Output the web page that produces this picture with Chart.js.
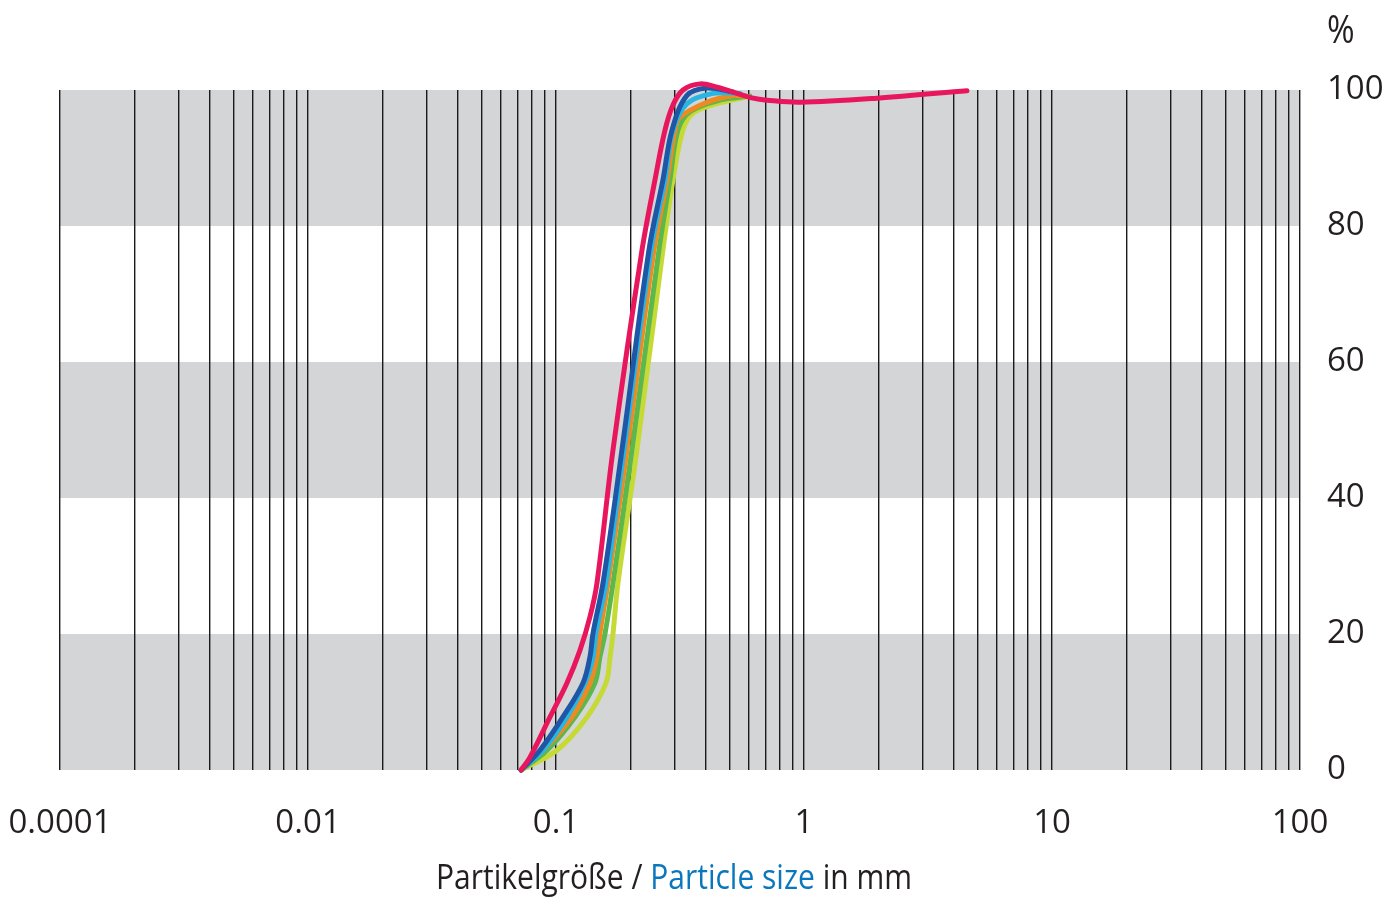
<!DOCTYPE html>
<html lang="de">
<head>
  <meta charset="UTF-8">
  <title>Partikelgröße</title>
  <script src="https://cdn.jsdelivr.net/npm/chart.js"></script>
  <style>
    body { margin: 0; background: #fff; }
    .chart-container { position: relative; width: 1394px; height: 899px; }
  </style>
</head>
<body>
<div class="chart-container">
  <canvas id="psdChart"></canvas>
</div>
<script>
  // Data (particle size in mm, cumulative passing in %)
  const redSize = [0.0723, 0.0786, 0.0946, 0.1107, 0.1249, 0.137, 0.1463, 0.1698, 0.2223, 0.2507, 0.2751, 0.2963, 0.3251, 0.381, 0.4459, 0.5172, 0.6229, 0.7092, 0.9636, 1.97, 4.54];
  const redPct  = [0, 1.9, 7.8, 12.8, 17.6, 22.5, 27.5, 47.1, 76.5, 86.8, 94.1, 97.8, 100, 100.9, 100.4, 99.7, 98.8, 98.5, 98.2, 98.8, 99.9];

  const blueSize = [0.0723, 0.0862, 0.1067, 0.1285, 0.137, 0.141, 0.1547, 0.1845, 0.2371, 0.27, 0.2936, 0.3374, 0.4064, 0.5172];
  const bluePct  = [0, 2.9, 7.8, 12.8, 16.6, 20.1, 27.5, 47.1, 76.5, 86.8, 94.1, 99.2, 100.3, 99.7];

  const cyanSize = [0.0723, 0.0886, 0.1108, 0.1309, 0.141, 0.1449, 0.1591, 0.188, 0.2416, 0.2751, 0.2963, 0.3374, 0.4297, 0.5519];
  const cyanPct  = [0, 2.9, 7.8, 12.8, 16.6, 20.1, 27.5, 47.1, 76.5, 86.8, 94.1, 98, 99.5, 99.5];

  const orangeSize = [0.0723, 0.0886, 0.116, 0.137, 0.1463, 0.1503, 0.162, 0.1933, 0.2484, 0.2803, 0.3018, 0.3162, 0.4064, 0.5172, 0.5782];
  const orangePct  = [0, 2.9, 7.8, 12.8, 16.6, 20.1, 27.5, 47.1, 76.5, 86.8, 94.1, 96, 98.2, 99.2, 99.1];

  const greenSize = [0.0723, 0.092, 0.1193, 0.1435, 0.1503, 0.1577, 0.1698, 0.2025, 0.2602, 0.2881, 0.3103, 0.347, 0.458, 0.605];
  const greenPct  = [0, 2.9, 7.8, 12.8, 16.6, 20.1, 27.5, 47.1, 76.5, 86.8, 94.1, 96.8, 98.5, 99.1];

  const limeSize = [0.0723, 0.1009, 0.1334, 0.1591, 0.1652, 0.1698, 0.1778, 0.2121, 0.27, 0.2963, 0.3251, 0.3567, 0.4459, 0.5891];
  const limePct  = [0, 2.9, 7.8, 12.8, 16.6, 20.1, 27.5, 47.1, 76.5, 86.8, 94.1, 96.6, 98, 99];

  // Axis ticks
  const xDecades = [0.001, 0.01, 0.1, 1, 10, 100];
  const xTickLabels = ['0.0001', '0.01', '0.1', '1', '10', '100'];
  const yTicks = [0, 20, 40, 60, 80, 100];
  const grayBands = [[0, 20], [40, 60], [80, 100]];

  const FONT = "'Open Sans', 'Noto Sans', sans-serif";
  const TEXT = '#231f20';

  function toPoints(xs, ys) {
    return xs.map((x, i) => ({ x: x, y: ys[i] }));
  }

  function series(label, xs, ys, color) {
    return {
      label: label,
      data: toPoints(xs, ys),
      borderColor: color,
      borderWidth: 5,
      pointRadius: 0,
      tension: 0.35,
      borderCapStyle: 'round',
      borderJoinStyle: 'round',
      clip: false
    };
  }

  // all 1..9 gridlines per decade
  const gridValues = [];
  xDecades.forEach((d, i) => {
    if (i === xDecades.length - 1) { gridValues.push(d); return; }
    for (let m = 1; m <= 9; m++) gridValues.push(+(d * m).toPrecision(3));
  });

  const bandsPlugin = {
    id: 'bands',
    beforeDraw(chart) {
      const { ctx, chartArea, scales } = chart;
      ctx.save();
      ctx.fillStyle = '#d4d5d7';
      grayBands.forEach(([a, b]) => {
        const y1 = scales.y.getPixelForValue(b);
        const y2 = scales.y.getPixelForValue(a);
        ctx.fillRect(chartArea.left, y1, chartArea.right - chartArea.left, y2 - y1);
      });
      ctx.restore();
    },
    afterDraw(chart) {
      const { ctx, chartArea } = chart;
      ctx.save();
      ctx.font = '38px ' + FONT;
      ctx.fillStyle = TEXT;
      ctx.textBaseline = 'alphabetic';
      ctx.textAlign = 'left';
      ctx.save();
      ctx.translate(chartArea.right + 27, 43);
      ctx.scale(0.88, 1);
      ctx.fillText('%', 0, 0);
      ctx.restore();

      // axis title with a coloured part (narrowed to match the condensed look)
      ctx.font = '35px ' + FONT;
      const parts = [['Partikelgröße / ', TEXT], ['Particle size', '#0a77bd'], [' in mm', TEXT]];
      const total = parts.reduce((s, p) => s + ctx.measureText(p[0]).width, 0);
      const sx = 476 / total;
      ctx.translate(674 - 238, 889);
      ctx.scale(sx, 1);
      let x = 0;
      parts.forEach(([t, c]) => {
        ctx.fillStyle = c;
        ctx.fillText(t, x, 0);
        x += ctx.measureText(t).width;
      });
      ctx.restore();
    }
  };

  const ctx = document.getElementById('psdChart').getContext('2d');
  new Chart(ctx, {
    type: 'line',
    data: {
      datasets: [
        series('Rot', redSize, redPct, '#e8175d'),
        series('Blau', blueSize, bluePct, '#1f57a6'),
        series('Hellblau', cyanSize, cyanPct, '#2ab6e2'),
        series('Orange', orangeSize, orangePct, '#ee8a23'),
        series('Grün', greenSize, greenPct, '#5cb84a'),
        series('Gelbgrün', limeSize, limePct, '#c6da36')
      ]
    },
    options: {
      responsive: true,
      maintainAspectRatio: false,
      animation: false,
      layout: { padding: { left: 60, top: 90, right: 0, bottom: 0 } },
      plugins: {
        legend: { display: false },
        tooltip: { enabled: false }
      },
      scales: {
        x: {
          type: 'logarithmic',
          min: 0.001,
          max: 100,
          afterBuildTicks(scale) {
            scale.ticks = gridValues.map(v => ({ value: v }));
          },
          afterFit(scale) {
            scale.height = 129;
            scale.paddingLeft = 0;
            scale.paddingRight = 0;
          },
          grid: { color: '#1a1a1a', lineWidth: 1.4, drawTicks: false },
          border: { display: false },
          ticks: {
            autoSkip: false,
            maxRotation: 0,
            padding: 34,
            color: TEXT,
            font: { family: FONT, size: 33 },
            callback(value) {
              const i = xDecades.findIndex(d => Math.abs(d - value) / d < 1e-6);
              return i >= 0 ? xTickLabels[i] : '';
            }
          }
        },
        y: {
          position: 'right',
          min: 0,
          max: 100,
          afterBuildTicks(scale) {
            scale.ticks = yTicks.map(v => ({ value: v }));
          },
          afterFit(scale) {
            scale.width = 94;
            scale.paddingTop = 0;
            scale.paddingBottom = 0;
          },
          grid: { display: false, drawTicks: false },
          border: { display: false },
          ticks: {
            padding: 27,
            color: TEXT,
            font: { family: FONT, size: 33 }
          }
        }
      }
    },
    plugins: [bandsPlugin]
  });
</script>
</body>
</html>
